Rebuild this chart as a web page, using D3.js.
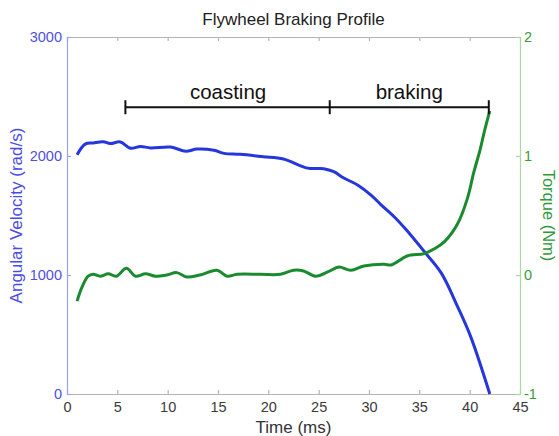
<!DOCTYPE html>
<html>
<head>
<meta charset="utf-8">
<script src="https://cdn.jsdelivr.net/npm/d3@7"></script>
<style>
  body { margin: 0; background: #fff; }
  svg { font-family: "Liberation Sans", Arial, sans-serif; }
</style>
</head>
<body>
<div id="chart"></div>
<script>
// angular velocity samples (rad/s)
var velTime = [1, 1.8, 2.6, 3.6, 4.3, 5.3, 6.3, 7.3, 8.3, 10.3, 11.8, 12.9, 14.6, 15.6, 17.2, 19.5, 21.5, 23.9, 25.5, 26.5, 27.5, 28.9, 30.2, 31.2, 32.5, 33.7, 35.5, 37.2, 38.8, 40.1, 42.0];
var velocity = [2010, 2100, 2110, 2120, 2105, 2118, 2065, 2080, 2068, 2075, 2040, 2058, 2048, 2022, 2014, 1994, 1975, 1898, 1893, 1868, 1815, 1755, 1672, 1590, 1490, 1380, 1196, 1014, 734, 482, 0];

// torque samples (Nm)
var torqueTime = [1, 1.5, 2.1, 2.6, 3.3, 4.1, 4.9, 5.9, 6.8, 7.8, 8.8, 9.9, 10.9, 11.9, 13.2, 14.9, 15.9, 16.9, 19.2, 21.2, 22.5, 23.5, 24.7, 26.0, 27.0, 28.2, 29.5, 31.5, 32.2, 33.8, 35.5, 36.5, 37.5, 38.8, 39.8, 40.4, 41.0, 41.5, 42.0];
var torque = [-0.22, -0.1, -0.01, 0.006, -0.01, 0.01, -0.01, 0.056, -0.01, 0.01, -0.01, 0, 0.02, -0.017, 0, 0.04, -0.01, 0.006, 0.006, 0.006, 0.04, 0.034, -0.01, 0.03, 0.067, 0.04, 0.076, 0.09, 0.084, 0.16, 0.18, 0.22, 0.28, 0.43, 0.65, 0.86, 1.04, 1.22, 1.38];

var xTicks = [0, 5, 10, 15, 20, 25, 30, 35, 40, 45];
var velTicks = [0, 1000, 2000, 3000];
var torqueTicks = [-1, 0, 1, 2];

// phase bracket (ms) and its labels
var phaseMarks = [5.8, 26.1, 41.9];
var phaseNames = ["coasting", "braking"];
var phaseLabelAt = [16, 34];
var bracketLevel = 2410; // in rad/s units

var width = 559, height = 436;
var margin = {top: 37, right: 39, bottom: 42, left: 67};
var w = width - margin.left - margin.right;
var h = height - margin.top - margin.bottom;

var svg = d3.select("#chart").append("svg")
    .attr("width", width).attr("height", height);
var g = svg.append("g").attr("transform", "translate(" + margin.left + "," + margin.top + ")");

var x = d3.scaleLinear().domain([0, 45]).range([0, w]);
var yV = d3.scaleLinear().domain([0, 3000]).range([h, 0]);
var yT = d3.scaleLinear().domain([-1, 2]).range([h, 0]);

var plain = function(d) { return String(d); };

function styleAxis(sel, lineCol, textCol) {
    sel.select(".domain").attr("stroke", lineCol).attr("stroke-width", 1.2);
    sel.selectAll(".tick line").attr("stroke", lineCol).attr("stroke-width", 1.2);
    sel.selectAll(".tick text").attr("fill", textCol).style("font-size", "14.5px");
}

// bottom + top (box)
var xb = g.append("g").attr("transform", "translate(0," + h + ")")
    .call(d3.axisBottom(x).tickValues(xTicks).tickFormat(plain).tickSizeInner(-4).tickSizeOuter(0).tickPadding(8));
styleAxis(xb, "#b4b4b4", "#3a3a3a");
var xt = g.append("g")
    .call(d3.axisTop(x).tickValues(xTicks).tickSizeInner(-4).tickSizeOuter(0).tickFormat(""));
styleAxis(xt, "#b4b4b4", "#3a3a3a");

var yl = g.append("g")
    .call(d3.axisLeft(yV).tickValues(velTicks).tickFormat(plain).tickSizeInner(-4).tickSizeOuter(0).tickPadding(5));
styleAxis(yl, "#a0a0f0", "#5050e0");
var yr = g.append("g").attr("transform", "translate(" + w + ",0)")
    .call(d3.axisRight(yT).tickValues(torqueTicks).tickFormat(plain).tickSizeInner(-4).tickSizeOuter(0).tickPadding(4));
styleAxis(yr, "#a8d8a8", "#3a9a3a");

// lines
var velLine = d3.line()
    .x(function(d, i) { return x(velTime[i]); })
    .y(function(d) { return yV(d); })
    .curve(d3.curveCatmullRom);
var torqueLine = d3.line()
    .x(function(d, i) { return x(torqueTime[i]); })
    .y(function(d) { return yT(d); })
    .curve(d3.curveCatmullRom);

g.append("path").datum(velocity)
    .attr("d", velLine).attr("fill", "none")
    .attr("stroke", "#2436dc").attr("stroke-width", 3).attr("stroke-linejoin", "round");
g.append("path").datum(torque)
    .attr("d", torqueLine).attr("fill", "none")
    .attr("stroke", "#1a8a2e").attr("stroke-width", 3).attr("stroke-linejoin", "round");

// phase bracket
var by = yV(bracketLevel);
g.append("line")
    .attr("x1", x(phaseMarks[0])).attr("x2", x(phaseMarks[phaseMarks.length - 1]))
    .attr("y1", by).attr("y2", by)
    .attr("stroke", "#111").attr("stroke-width", 2);
g.selectAll("line.mark").data(phaseMarks).enter().append("line")
    .attr("class", "mark")
    .attr("x1", function(d) { return x(d); }).attr("x2", function(d) { return x(d); })
    .attr("y1", by - 7).attr("y2", by + 7)
    .attr("stroke", "#111").attr("stroke-width", 2);
g.selectAll("text.phase").data(phaseNames).enter().append("text")
    .attr("class", "phase")
    .attr("x", function(d, i) { return x(phaseLabelAt[i]); })
    .attr("y", by - 8)
    .attr("text-anchor", "middle")
    .style("font-size", "20.5px")
    .attr("fill", "#111")
    .text(function(d) { return d; });

// titles
svg.append("text").attr("x", margin.left + w / 2).attr("y", 25)
    .attr("text-anchor", "middle").style("font-size", "17px").attr("fill", "#222")
    .text("Flywheel Braking Profile");
svg.append("text").attr("x", margin.left + w / 2).attr("y", 433)
    .attr("text-anchor", "middle").style("font-size", "17px").attr("fill", "#333")
    .text("Time (ms)");
svg.append("text")
    .attr("transform", "translate(22," + (margin.top + h / 2) + ") rotate(-90)")
    .attr("text-anchor", "middle").style("font-size", "17px").attr("fill", "#4a4ae6")
    .text("Angular Velocity (rad/s)");
svg.append("text")
    .attr("transform", "translate(543," + (margin.top + h / 2) + ") rotate(90)")
    .attr("text-anchor", "middle").style("font-size", "16.5px").attr("fill", "#2f9a3a")
    .text("Torque (Nm)");
</script>
</body>
</html>
